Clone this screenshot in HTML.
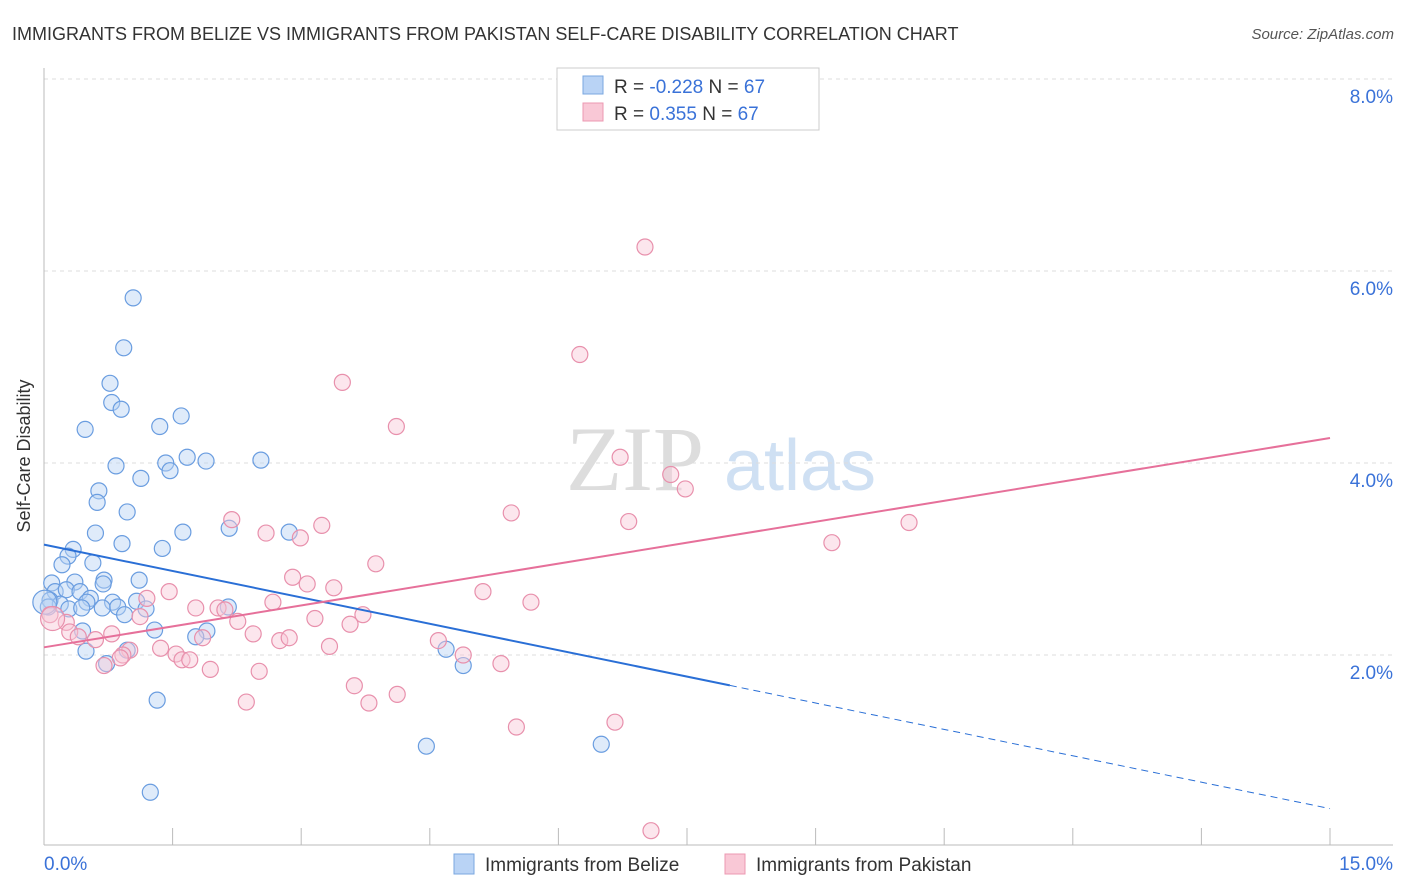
<!DOCTYPE html>
<html><head><meta charset="utf-8">
<style>
body{margin:0;background:#fff;font-family:"Liberation Sans",sans-serif;}
#wrap{position:relative;width:1406px;height:892px;overflow:hidden;}
</style></head>
<body>
<div id="wrap">
<svg id="svg" width="1406" height="892" xmlns="http://www.w3.org/2000/svg">
<text x="12" y="40" font-size="18" fill="#333">IMMIGRANTS FROM BELIZE VS IMMIGRANTS FROM PAKISTAN SELF-CARE DISABILITY CORRELATION CHART</text>
<text x="1394" y="39" font-size="15" fill="#555" font-style="italic" text-anchor="end">Source: ZipAtlas.com</text>
<text x="30" y="456" font-size="18" fill="#333" text-anchor="middle" transform="rotate(-90 30 456)">Self-Care Disability</text>
<g><text x="635" y="490" font-size="92" fill="#ddd" font-family="Liberation Serif,serif" text-anchor="middle">ZIP</text><text x="800" y="490" font-size="72" fill="#cfe0f3" text-anchor="middle">atlas</text></g>
<g id="grid"></g><g id="axes"></g><g id="marks"></g>
<g>
<rect x="557" y="68" width="262" height="62" fill="#fff" stroke="#ccc"/>
<rect x="583" y="76" width="20" height="18" fill="#b9d3f5" stroke="#7aa7e0"/>
<rect x="583" y="103" width="20" height="18" fill="#f9c8d6" stroke="#ec98b2"/>
<text x="614" y="93" font-size="19" fill="#333">R = <tspan fill="#3a72d8">-0.228</tspan>   N = <tspan fill="#3a72d8">67</tspan></text>
<text x="614" y="120" font-size="19" fill="#333">R =  <tspan fill="#3a72d8"> 0.355</tspan>   N = <tspan fill="#3a72d8">67</tspan></text>
</g>
<g>
<rect x="454" y="854" width="20" height="20" fill="#b9d3f5" stroke="#7aa7e0"/>
<text x="485" y="871" font-size="19" fill="#333">Immigrants from Belize</text>
<rect x="725" y="854" width="20" height="20" fill="#f9c8d6" stroke="#ec98b2"/>
<text x="756" y="871" font-size="19" fill="#333">Immigrants from Pakistan</text>
</g>
</svg>
</div>
<script>
const yTicks=[2,4,6,8];
const yTickLabels=["2.0%","4.0%","6.0%","8.0%"];
const xTickCount=10;
const belizeX=[1.04,0.93,0.77,0.79,0.90,0.48,1.60,1.35,0.84,1.42,1.47,1.67,1.89,2.53,1.13,0.64,0.62,0.97,0.60,1.62,2.16,2.86,0.91,1.38,0.34,0.28,0.21,0.57,0.09,0.36,0.70,1.11,0.69,0.13,0.26,0.42,0.54,0.07,0.19,0.50,0.80,1.08,0.05,0.29,0.44,0.68,0.86,1.19,2.15,0.94,0.45,1.29,1.90,1.77,0.49,0.97,4.69,4.89,0.73,1.32,4.46,6.50,1.24,0.01];
const belizeY=[5.72,5.20,4.83,4.63,4.56,4.35,4.49,4.38,3.97,4.00,3.92,4.06,4.02,4.03,3.84,3.71,3.59,3.49,3.27,3.28,3.32,3.28,3.16,3.11,3.10,3.03,2.94,2.96,2.75,2.76,2.78,2.78,2.74,2.66,2.68,2.66,2.59,2.57,2.53,2.55,2.55,2.56,2.50,2.48,2.49,2.49,2.50,2.48,2.50,2.42,2.25,2.26,2.25,2.19,2.04,2.05,2.06,1.89,1.91,1.53,1.05,1.07,0.57,2.55];
const pakX=[7.01,6.25,3.48,4.11,6.72,7.31,7.48,5.45,6.82,10.09,9.19,2.19,3.24,2.59,2.99,3.87,2.90,3.07,3.38,5.12,1.46,1.20,5.68,2.67,1.77,2.03,2.11,3.72,3.16,2.26,3.57,1.12,0.07,0.26,0.30,0.40,0.60,0.79,2.44,2.75,2.86,1.85,4.60,3.33,1.36,1.00,0.92,1.54,0.89,4.89,1.61,1.70,0.70,1.94,2.51,5.33,3.62,4.12,3.79,2.36,6.66,5.51,7.08,0.10];
const pakY=[6.25,5.13,4.84,4.38,4.06,3.88,3.73,3.48,3.39,3.38,3.17,3.41,3.35,3.27,3.22,2.95,2.81,2.74,2.70,2.66,2.66,2.59,2.55,2.55,2.49,2.49,2.47,2.42,2.38,2.35,2.32,2.40,2.42,2.34,2.24,2.19,2.16,2.22,2.22,2.15,2.18,2.18,2.15,2.09,2.07,2.05,2.00,2.01,1.97,2.00,1.95,1.95,1.89,1.85,1.83,1.91,1.68,1.59,1.50,1.51,1.30,1.25,0.17,2.38];
const belizeTrend=[3.15,0.40]; const belizeSolidEnd=8.0;
const pakTrend=[2.08,4.26];
const X=v=>44+v*(1330-44)/15, Y=v=>847-v*96;
const NS="http://www.w3.org/2000/svg";
function mk(p,t,a){const e=document.createElementNS(NS,t);for(const k in a)e.setAttribute(k,a[k]);p.appendChild(e);return e;}
const grid=document.getElementById('grid'),axes=document.getElementById('axes'),marks=document.getElementById('marks');
yTicks.forEach((t,i)=>{const l=mk(grid,'line',{x1:44,x2:1393,y1:Y(t),y2:Y(t),stroke:'#ddd','stroke-dasharray':'4 4'});

const tx=mk(axes,'text',{x:1393,y:Y(t)+24,'font-size':19,fill:'#3a72d8','text-anchor':'end'});tx.textContent=yTickLabels[i];
});
{const l=mk(grid,'line',{x1:44,x2:1393,y1:Y(8)+0,y2:Y(8),stroke:'#ddd','stroke-dasharray':'4 4'});}
const ax=mk(axes,'line',{x1:44,x2:1393,y1:845,y2:845,stroke:'#bbb'});
const ay=mk(axes,'line',{x1:44,x2:44,y1:68,y2:845,stroke:'#bbb'});
for(let i=0;i<=xTickCount;i++){const x=X(15*i/xTickCount);const t=mk(axes,'line',{x1:x,x2:x,y1:828,y2:845,stroke:'#bbb'});}
const xl0=mk(axes,'text',{x:44,y:870,'font-size':19,fill:'#3a72d8'});xl0.textContent='0.0%';
const xl1=mk(axes,'text',{x:1393,y:870,'font-size':19,fill:'#3a72d8','text-anchor':'end'});xl1.textContent='15.0%';
function dots(xs,ys,fill,stroke,name){xs.forEach((x,i)=>{const c=mk(marks,'circle',{cx:X(x),cy:Y(ys[i]),r:(i==xs.length-1)?12:8,fill:fill,'fill-opacity':0.45,stroke:stroke,'stroke-width':1.2});
});}
dots(belizeX,belizeY,'#b9d3f5','#6a9de0','belize-point');
dots(pakX,pakY,'#f9c8d6','#e890ac','pakistan-point');
const bAt=v=>belizeTrend[0]+(belizeTrend[1]-belizeTrend[0])*v/15;
let l=mk(marks,'line',{x1:X(0),y1:Y(bAt(0)),x2:X(belizeSolidEnd),y2:Y(bAt(belizeSolidEnd)),stroke:'#2a6fd6','stroke-width':2});

l=mk(marks,'line',{x1:X(belizeSolidEnd),y1:Y(bAt(belizeSolidEnd)),x2:X(15),y2:Y(bAt(15)),stroke:'#2a6fd6','stroke-width':1,'stroke-dasharray':'7 5'});

l=mk(marks,'line',{x1:X(0),y1:Y(pakTrend[0]),x2:X(15),y2:Y(pakTrend[1]),stroke:'#e6709a','stroke-width':2});

</script>
</body></html>
